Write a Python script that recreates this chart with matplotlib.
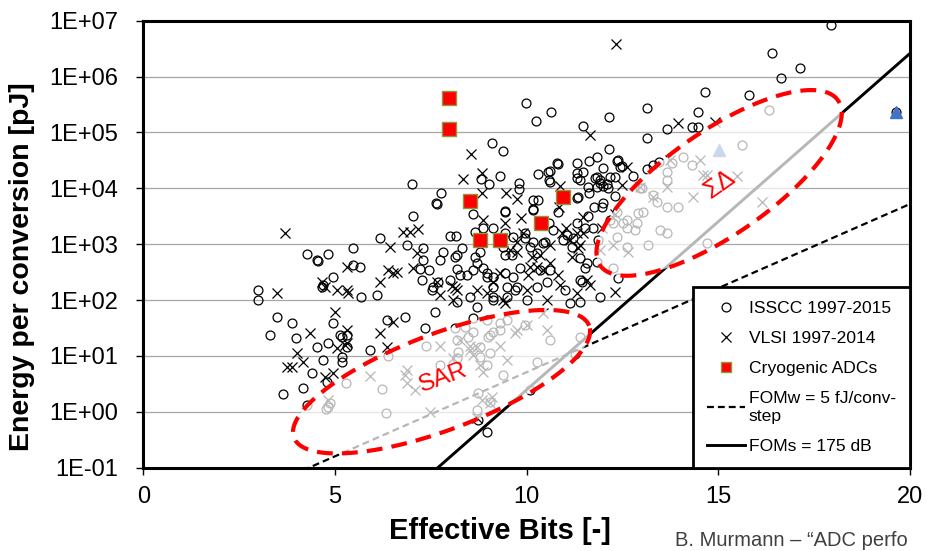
import numpy as np
import matplotlib
matplotlib.use('Agg')
import matplotlib.pyplot as plt
from matplotlib.lines import Line2D
from matplotlib.ticker import NullLocator

plt.rcParams['font.family'] = ['Liberation Sans', 'DejaVu Sans']

# ISSCC 1997-2015 : (effective bits, log10 energy per conversion [pJ])
isscc_points = [
    (17.94, 6.92), (16.40, 6.42), (17.13, 6.15), (16.64, 5.97), (14.65, 5.72), (15.80, 5.67),
    (9.98, 5.53), (10.25, 5.21), (10.64, 5.37), (12.15, 5.28), (13.14, 5.44), (14.47, 5.37),
    (11.47, 5.12), (13.66, 5.06), (14.31, 5.10), (14.47, 5.10), (16.32, 5.40), (15.62, 4.78),
    (13.14, 4.90), (12.15, 4.70), (19.63, 5.37), (9.10, 4.81), (9.38, 4.67),
    (9.31, 4.22), (8.81, 4.17), (9.02, 4.08), (9.80, 4.10), (9.80, 3.99), (10.30, 4.26),
    (7.01, 4.08), (7.77, 3.92), (7.64, 3.74), (7.04, 3.51), (8.60, 3.54), (9.43, 3.60),
    (10.17, 3.63), (9.12, 3.29), (8.65, 3.22), (6.17, 3.11), (8.00, 3.15), (8.16, 3.15),
    (7.66, 3.72), (10.61, 4.31), (10.82, 4.44), (10.58, 4.15), (11.31, 4.45), (11.62, 4.49),
    (11.83, 4.56), (11.31, 4.19), (11.47, 4.29), (11.78, 4.19), (11.99, 4.36), (12.36, 4.49),
    (12.43, 4.38), (12.77, 4.22), (12.30, 4.20), (11.99, 4.04), (12.10, 4.08), (11.60, 4.02),
    (11.91, 4.10), (12.30, 3.86), (11.99, 3.74), (11.76, 3.67), (11.34, 3.84), (11.62, 3.92),
    (13.14, 4.35), (13.30, 4.42), (13.46, 4.47), (12.96, 4.01), (12.38, 4.51), (12.48, 4.40),
    (10.79, 4.45), (10.56, 4.29), (11.31, 4.28), (11.39, 4.15), (11.91, 4.15), (12.17, 4.20),
    (10.17, 3.79), (10.30, 3.79), (11.31, 3.83), (11.83, 4.02), (11.83, 4.20), (10.17, 3.61),
    (10.61, 4.11), (12.17, 3.43), (11.97, 3.67), (13.01, 4.01), (12.12, 4.01),
    (9.43, 3.58), (10.17, 3.04), (10.48, 3.04), (10.82, 3.58), (11.05, 3.17), (11.21, 3.11),
    (10.58, 3.38), (11.31, 3.38), (11.60, 3.51), (11.73, 3.29), (11.86, 3.08), (12.36, 3.58),
    (12.25, 3.38), (8.86, 3.29), (9.43, 3.20), (9.96, 3.20), (8.78, 2.86), (9.38, 2.95),
    (9.62, 2.81), (10.09, 2.95), (8.13, 2.77),
    (9.65, 3.13), (9.96, 3.11), (10.27, 2.84), (10.43, 3.02), (10.69, 3.26), (10.95, 3.08),
    (11.18, 2.95), (11.39, 2.75), (11.52, 2.57), (11.39, 2.36), (11.00, 2.18), (10.61, 2.54),
    (10.27, 2.24), (9.83, 2.57), (9.43, 2.48), (9.70, 2.18), (11.39, 1.97), (11.91, 2.06),
    (11.83, 2.68), (11.52, 3.29), (10.35, 2.54),
    (4.27, 2.83), (4.53, 2.72), (4.56, 2.70), (4.82, 2.83), (5.47, 2.93), (6.88, 2.99),
    (7.30, 2.93), (7.82, 2.86), (8.31, 2.93), (7.30, 2.72), (7.27, 2.36), (7.45, 2.54),
    (8.00, 2.36), (7.56, 2.24), (7.53, 2.18), (8.26, 2.45), (8.60, 2.54), (8.70, 2.66),
    (8.97, 2.48), (9.12, 2.41), (8.52, 2.06), (8.70, 1.88), (9.12, 2.24), (9.49, 2.24),
    (9.75, 2.24), (10.01, 2.00), (9.49, 2.06), (9.12, 2.06), (5.65, 2.59), (5.47, 2.63),
    (4.95, 2.41), (4.66, 2.24), (4.69, 2.27), (5.68, 2.06), (6.10, 2.09), (2.99, 2.18),
    (2.99, 2.00), (3.49, 1.70), (3.88, 1.59), (3.31, 1.38), (3.98, 1.32), (4.53, 1.16),
    (4.82, 1.23), (4.95, 1.59), (5.13, 1.38), (5.18, 1.34), (5.31, 1.38), (5.31, 1.16),
    (5.18, 0.98), (5.18, 0.89), (4.69, 0.93), (4.40, 0.70), (4.17, 0.42), (3.64, 0.32),
    (4.27, 0.13), (4.79, 0.53), (5.91, 1.11), (6.36, 1.65), (6.83, 1.70), (7.35, 1.50),
    (7.61, 1.79), (8.60, 1.68),
    (7.22, 2.55), (7.69, 2.32), (8.18, 2.55), (8.18, 1.96), (8.44, 2.45), (8.65, 2.77),
    (8.86, 2.57), (8.97, 2.41), (9.12, 2.00), (9.43, 2.81), (9.65, 2.41), (10.53, 2.32),
    (11.13, 1.95), (11.44, 2.32), (11.57, 2.66), (8.18, 2.81), (7.74, 2.72),
    (11.26, 1.04), (10.09, 0.39), (8.97, -0.36),
    # inside the SAR region
    (4.77, 0.05), (4.82, 0.09), (5.28, 0.51), (6.33, -0.02), (6.23, 0.41), (6.39, 1.00),
    (7.38, 1.18), (7.74, 0.84), (8.13, 1.50), (8.18, 1.29), (8.21, 1.07), (8.39, 1.52),
    (8.47, 1.34), (8.60, 1.43), (8.97, 1.65), (8.99, 1.34), (9.04, 1.05), (8.78, 0.98),
    (9.31, 1.59), (9.49, 1.65), (9.38, 0.66), (8.73, 0.34), (8.70, 0.04), (9.04, 0.18),
    (8.73, -0.14), (4.87, 0.16), (8.78, 1.16), (9.04, 1.38), (9.12, 1.43), (9.96, 1.55),
    (10.61, 1.29), (10.27, 0.89), (11.39, 1.34), (8.97, 0.84), (8.18, 0.96), (9.31, 1.47),
    # inside the sigma-delta region
    (14.08, 4.56), (13.66, 4.29), (13.30, 3.88), (13.40, 3.76), (13.04, 3.58), (13.66, 3.67),
    (13.95, 3.67), (12.91, 3.56), (12.51, 3.38), (12.88, 3.38), (13.48, 3.26), (13.66, 3.20),
    (13.17, 2.99), (12.36, 3.13), (12.62, 2.95), (13.79, 4.45), (14.31, 4.42), (13.66, 4.15),
    (12.62, 3.43), (12.83, 3.26), (14.70, 3.02), (12.38, 2.40), (12.25, 2.57), (12.62, 3.29),
]

# VLSI 1997-2014
vlsi_points = [
    (12.33, 6.58), (13.95, 5.17), (14.91, 5.19), (11.65, 4.95), (8.55, 4.62), (8.34, 4.17),
    (8.84, 4.28), (8.84, 3.92), (9.46, 3.92), (9.75, 3.81), (8.86, 3.43), (9.43, 3.38),
    (9.85, 3.47), (3.70, 3.20), (6.78, 3.22), (6.96, 3.22), (7.17, 3.27), (10.87, 4.04),
    (10.84, 3.67), (11.02, 3.29), (11.47, 3.49), (11.47, 3.20), (11.13, 3.08), (11.97, 3.29),
    (12.30, 3.54), (12.62, 4.38), (12.48, 4.06), (9.75, 3.04), (10.61, 2.99), (9.57, 2.90),
    (11.39, 2.99), (11.91, 2.90), (3.49, 2.13), (4.66, 2.32), (4.74, 2.24), (5.05, 2.18),
    (5.31, 2.18), (5.34, 2.13), (5.31, 2.59), (6.17, 2.32), (6.39, 2.54), (6.62, 2.50),
    (7.14, 2.84), (7.04, 2.57), (6.44, 2.95), (7.66, 2.32), (7.74, 2.09), (8.08, 2.00),
    (8.13, 2.22), (8.97, 2.13), (9.38, 2.00), (8.70, 2.18), (9.31, 2.48), (9.75, 2.86),
    (10.14, 2.77), (10.04, 2.45), (5.00, 1.79), (5.31, 1.47), (5.31, 1.23), (5.05, 1.14),
    (4.35, 1.41), (4.01, 1.05), (3.74, 0.80), (3.88, 0.80), (4.17, 0.89), (4.74, 0.62),
    (4.95, 0.70), (6.17, 1.41), (6.51, 1.61), (6.36, 1.16), (5.26, 1.20), (6.51, 2.48),
    (8.05, 2.25), (8.18, 2.18), (9.12, 2.32), (9.43, 1.95), (10.09, 2.59), (10.35, 2.81),
    (10.43, 2.54), (10.61, 2.66), (10.87, 2.27), (11.31, 2.13), (11.65, 2.27), (10.01, 2.18),
    (9.91, 3.20), (10.27, 2.59), (10.82, 2.45), (11.18, 2.77), (11.34, 2.93), (11.57, 2.36),
    (10.53, 2.00), (10.92, 3.20), (11.31, 3.20), (12.30, 2.15),
    # inside the SAR region
    (4.82, 0.22), (5.92, 0.64), (6.88, 0.75), (6.88, 0.51), (7.09, 0.39), (7.48, 0.00),
    (8.08, 0.96), (8.26, 1.29), (8.52, 1.11), (8.60, 1.02), (8.86, 0.71), (8.70, 1.16),
    (9.49, 0.93), (9.70, 1.41), (8.84, 0.22), (9.04, 0.16), (8.70, -0.11), (6.83, 0.66),
    (7.74, 1.18), (8.52, 1.18), (9.31, 1.18), (9.75, 1.47), (10.01, 1.55), (10.53, 1.47),
    (10.43, 1.77), (8.78, 0.84), (9.10, 0.27),
    # inside the sigma-delta region
    (13.74, 4.51), (14.52, 4.51), (14.60, 4.24), (14.34, 3.84), (13.30, 3.84), (13.66, 4.02),
    (14.70, 4.24), (15.49, 4.22), (16.14, 3.76), (12.96, 4.02), (12.64, 2.86), (12.25, 2.99),
]

# Cryogenic ADCs
cryo_enob = [7.98, 7.98, 8.52, 8.78, 9.31, 10.38, 10.96]
cryo_log_pj = [5.62, 5.06, 3.77, 3.07, 3.07, 3.38, 3.84]

# extra (blue triangle) points
tri_enob = [19.63, 15.02]
tri_log_pj = [5.37, 4.69]

# figure-of-merit limits
FOMW_FJ = 5.0
FOMS_DB = 175.0

x_ticks = [0, 5, 10, 15, 20]
y_exps = list(range(-1, 8))


def fomw_line(bits):
    # Walden: E = FOMw * 2^ENOB  (fJ -> pJ)
    return FOMW_FJ * 1e-3 * 2.0 ** bits


def foms_line(bits):
    # Schreier: FOMs = SNDR + 10log(fs/2/P)  ->  E = 1 / (2 * 10^((FOMs-SNDR)/10))
    sndr = 6.02 * bits + 1.76
    return 1e12 / (2 * 10 ** ((FOMS_DB - sndr) / 10))


# Draw a faded, red dashed region (ellipse in bits / log-energy space)
def region(ax, center, a, b):
    t = np.linspace(0, 2 * np.pi, 400)
    x = center[0] + a[0] * np.cos(t) + b[0] * np.sin(t)
    y = 10 ** (center[1] + a[1] * np.cos(t) + b[1] * np.sin(t))
    ax.fill(x, y, color='white', alpha=0.72, lw=0, zorder=3)
    ax.plot(x, y, color='#ff0000', lw=3, ls=(0, (3.8, 2.2)), zorder=4)


fig = plt.figure(figsize=(9.28, 5.51), dpi=100)
ax = fig.add_axes([0.1544, 0.1512, 0.8262, 0.8112])

bits = np.linspace(0, 20, 400)
ax.plot(bits, fomw_line(bits), color='black', lw=1.6, ls=(0, (3.1, 1.8)), zorder=2)
ax.plot(bits, foms_line(bits), color='black', lw=2.1, zorder=2)

ix, iy = zip(*isscc_points)
vx, vy = zip(*vlsi_points)
ax.plot(ix, 10 ** np.array(iy), ls='none', marker='o', mfc='none', mec='black',
        ms=6.4, mew=0.9, zorder=2.5)
ax.plot(vx, 10 ** np.array(vy), ls='none', marker='x', color='black',
        ms=6.8, mew=0.9, zorder=2.5)
ax.plot(cryo_enob, 10 ** np.array(cryo_log_pj), ls='none', marker='s', mfc='#ff0000',
        mec='#8c9a3c', ms=9.5, mew=1.0, zorder=2.6)
ax.plot(tri_enob, 10 ** np.array(tri_log_pj), ls='none', marker='^', color='#4472c4',
        ms=9, zorder=2.6)

# SAR and sigma-delta regions
region(ax, (7.78, 0.539), (3.85, 1.002), (-0.444, 0.803))
region(ax, (15.02, 4.097), (3.105, 1.476), (-0.772, 0.764))
ax.text(7.82, 10 ** 0.60, 'SAR', color='#ff0000', fontsize=17.5, rotation=20,
        ha='center', va='center', rotation_mode='anchor', zorder=4)
ax.text(15.04, 10 ** 4.07, 'ΣΔ', color='#ff0000', fontsize=18, rotation=35,
        ha='center', va='center', rotation_mode='anchor', zorder=4)

# axes
ax.set_xlim(0, 20)
ax.set_yscale('log')
ax.set_ylim(0.1, 1e7)
ax.set_xticks(x_ticks)
ax.set_yticks([10.0 ** e for e in y_exps])
ax.set_yticklabels([f"1E{e:+03d}" for e in y_exps])
ax.yaxis.set_minor_locator(NullLocator())
ax.grid(axis='y', color='#a6a6a6', lw=0.9)
ax.set_axisbelow(True)
ax.tick_params(axis='both', direction='out', length=5, width=1, labelsize=17)
ax.tick_params(axis='y', pad=13)
ax.tick_params(axis='x', pad=8)
for s in ax.spines.values():
    s.set_linewidth(2.2)

ax.set_xlabel('Effective Bits [-]', fontsize=21, fontweight='bold', va='center')
ax.xaxis.set_label_coords(0.465, -0.1416)
ax.set_ylabel('Energy per conversion [pJ]', fontsize=20.5, fontweight='bold', va='center')
ax.yaxis.set_label_coords(-0.158, 0.449)

handles = [
    Line2D([], [], ls='none', marker='o', mfc='none', mec='black', ms=6.4, mew=0.9),
    Line2D([], [], ls='none', marker='x', color='black', ms=6.8, mew=0.9),
    Line2D([], [], ls='none', marker='s', mfc='#ff0000', mec='#8c9a3c', ms=7, mew=1.0),
    Line2D([], [], color='black', lw=1.6, ls=(0, (3.1, 1.8))),
    Line2D([], [], color='black', lw=2.1),
]
labels = ['ISSCC 1997-2015', 'VLSI 1997-2014', 'Cryogenic ADCs',
          'FOMw = 5 fJ/conv-\nstep', 'FOMs = 175 dB']
leg = ax.legend(handles, labels, loc='lower right', bbox_to_anchor=(1, 0),
                borderaxespad=0, fontsize=12.6, frameon=True, fancybox=False,
                edgecolor='black', framealpha=1, labelspacing=0.85,
                handlelength=2.2, handletextpad=0.2, borderpad=0.8)
leg.get_frame().set_linewidth(2)
leg.set_zorder(5)

# source note (only its visible start fits on the slide)
fig.text(675 / 928, 1 - 540 / 551, 'B. Murmann – “ADC perfo',
         color='#404040', fontsize=14.5, va='center')

fig.savefig('out.png', dpi=100)
